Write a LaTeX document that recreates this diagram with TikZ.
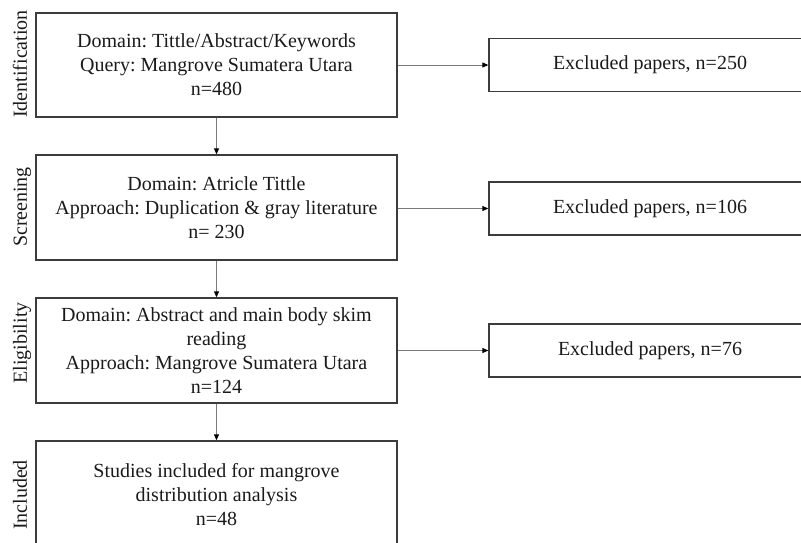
\documentclass[tikz,border=0pt]{standalone}
\usepackage{fontspec}
\setmainfont{Liberation Serif}
\usetikzlibrary{arrows.meta}
\definecolor{boxgray}{HTML}{3C3C3C}
\definecolor{arrgray}{HTML}{7A7A7A}
\definecolor{textc}{HTML}{1A1A1A}
\frenchspacing
\begin{document}
\begin{tikzpicture}[x=1pt,y=-1pt,
  box/.style={draw=boxgray, line width=1.3pt, inner sep=0pt, align=center,
    font=\fontsize{20}{24}\selectfont, text=textc},
  mainbox/.style={box, minimum width=361pt},
  exbox/.style={box, minimum width=322pt, minimum height=53pt},
  side/.style={font=\fontsize{20}{24}\selectfont, text=textc, rotate=90, anchor=base, inner sep=0pt},
  arr/.style={draw=arrgray, line width=0.9pt, -{Triangle[length=6pt,width=5pt,color=black]}}]
\useasboundingbox (0,0) rectangle (801,542);
\clip (0,0) rectangle (801,542);

\node[mainbox, minimum height=104pt] (b1) at (216.5,65)
  {Domain: Tittle/Abstract/Keywords\\Query: Mangrove Sumatera Utara\\n=480};
\node[mainbox, minimum height=105pt] (b2) at (216.5,207.5)
  {Domain: Atricle Tittle\\Approach: Duplication \& gray literature\\n= 230};
\node[mainbox, minimum height=105pt] (b3) at (216.5,350.5)
  {Domain: Abstract and main body skim\\reading\\Approach: Mangrove Sumatera Utara\\n=124};
\node[mainbox, minimum height=107pt] (b4) at (216.5,494.5)
  {Studies included for mangrove\\distribution analysis\\n=48};

\node[exbox] (e1) at (650,65) {Excluded papers, n=250};
\node[exbox] (e2) at (650,208.5) {Excluded papers, n=106};
\node[exbox] (e3) at (650,350.5) {Excluded papers, n=76};

\node[side] (l1) at (27,64) {Identification};
\node[side] (l2) at (27,207) {Screening};
\node[side] (l3) at (27,343) {Eligibility};
\node[side] (l4) at (27,495) {Included};

\draw[arr] (b1.south) -- (b2.north);
\draw[arr] (b2.south) -- (b3.north);
\draw[arr] (b3.south) -- (b4.north);

\draw[arr] (b1.east) -- (e1.west);
\draw[arr] (b2.east |- e2.west) -- (e2.west);
\draw[arr] (b3.east) -- (e3.west);
\end{tikzpicture}
\end{document}
